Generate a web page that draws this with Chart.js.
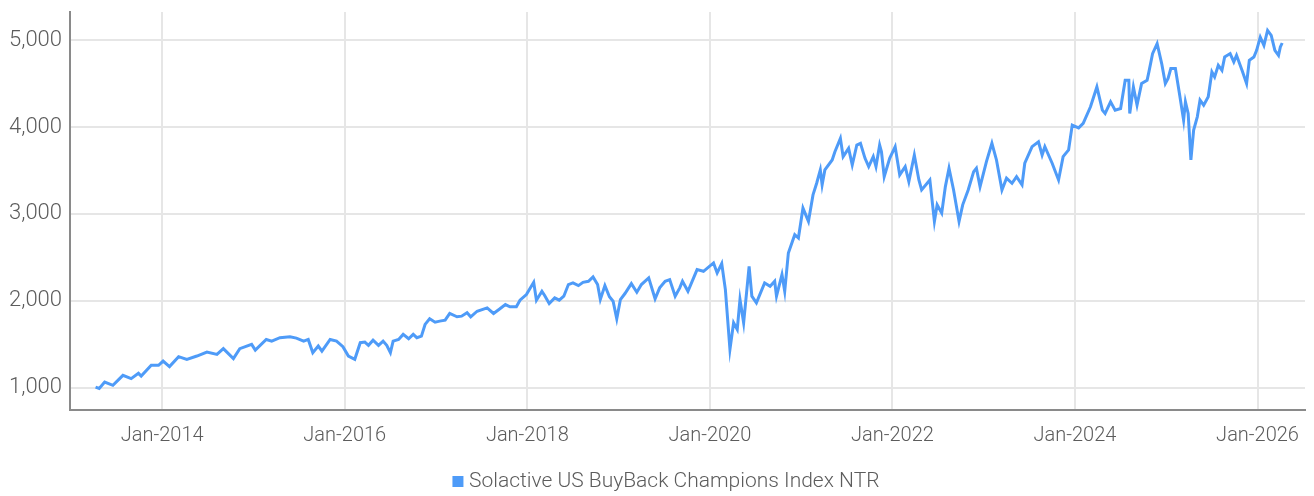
<!DOCTYPE html>
<html>
<head>
<meta charset="utf-8">
<script src="https://cdn.jsdelivr.net/npm/chart.js@4"></script>
<style>
html,body{margin:0;padding:0;background:#fff;}
#wrap{width:1314px;height:496px;position:relative;}
</style>
</head>
<body>
<div id="wrap"><canvas id="c" width="1314" height="496"></canvas></div>
<script>
// Decimal-year positions of the observations
const dates = [
2013.27,2013.31,2013.37,2013.46,2013.57,2013.66,2013.74,2013.77,2013.88,2013.96,
2014.01,2014.08,2014.18,2014.27,2014.38,2014.49,2014.60,2014.67,2014.78,2014.85,2014.98,
2015.02,2015.14,2015.20,2015.29,2015.40,2015.47,2015.55,2015.60,2015.65,2015.71,2015.75,2015.84,2015.91,2015.98,
2016.04,2016.11,2016.17,2016.22,2016.26,2016.31,2016.37,2016.42,2016.46,2016.50,2016.53,2016.59,2016.64,2016.70,2016.75,2016.79,2016.84,2016.88,2016.93,2016.99,
2017.04,2017.10,2017.15,2017.23,2017.28,2017.34,2017.38,2017.45,2017.56,2017.63,2017.70,2017.76,2017.81,2017.88,2017.92,2017.99,
2018.07,2018.10,2018.16,2018.19,2018.24,2018.30,2018.35,2018.40,2018.45,2018.50,2018.56,2018.61,2018.67,2018.72,2018.77,2018.80,2018.85,2018.90,2018.94,2018.98,
2019.02,2019.07,2019.14,2019.20,2019.25,2019.33,2019.40,2019.45,2019.51,2019.56,2019.62,2019.67,2019.70,2019.76,2019.86,2019.93,
2020.04,2020.08,2020.13,2020.17,2020.22,2020.26,2020.30,2020.33,2020.37,2020.43,2020.46,2020.51,2020.60,2020.66,2020.71,2020.73,2020.79,2020.82,2020.86,2020.93,2020.97,
2021.02,2021.08,2021.13,2021.17,2021.21,2021.23,2021.26,2021.34,2021.37,2021.43,2021.46,2021.52,2021.56,2021.61,2021.65,2021.70,2021.74,2021.79,2021.82,2021.86,2021.88,2021.91,2021.97,
2022.03,2022.08,2022.14,2022.18,2022.24,2022.29,2022.32,2022.41,2022.46,2022.49,2022.54,2022.58,2022.62,2022.67,2022.73,2022.77,2022.83,2022.89,2022.92,2022.96,
2023.03,2023.09,2023.14,2023.20,2023.25,2023.31,2023.36,2023.42,2023.45,2023.53,2023.60,2023.64,2023.67,2023.75,2023.82,2023.87,2023.93,2023.97,
2024.04,2024.09,2024.17,2024.24,2024.30,2024.33,2024.39,2024.44,2024.50,2024.55,2024.59,2024.60,2024.64,2024.68,2024.73,2024.79,2024.81,2024.85,2024.90,2024.95,2024.99,
2025.02,2025.05,2025.10,2025.15,2025.19,2025.21,2025.24,2025.27,2025.30,2025.34,2025.37,2025.41,2025.46,2025.50,2025.53,2025.57,2025.61,2025.64,2025.70,2025.74,2025.77,2025.83,2025.88,2025.91,2025.96,2025.99,
2026.03,2026.07,2026.11,2026.15,2026.19,2026.23,2026.25,2026.27
];
// Index level (NTR)
const values = [
1005,990,1064,1026,1141,1103,1164,1133,1256,1256,
1305,1241,1356,1325,1363,1409,1382,1448,1333,1448,1497,
1432,1554,1535,1574,1585,1569,1535,1554,1402,1478,1420,1554,1535,1471,
1363,1325,1517,1524,1486,1546,1486,1535,1486,1402,1535,1554,1612,1562,1612,1574,1592,1727,1792,1753,
1765,1776,1853,1815,1822,1861,1815,1879,1918,1853,1907,1956,1930,1930,2006,2071,
2212,2006,2109,2060,1968,2033,2006,2052,2186,2205,2174,2212,2224,2274,2186,2014,2174,2045,1994,1792,
2014,2083,2197,2098,2186,2263,2022,2148,2224,2243,2052,2148,2224,2109,2358,2339,
2435,2320,2427,2128,1440,1746,1669,2014,1746,2396,2052,1976,2205,2167,2224,2052,2301,2109,2550,2760,2722,
3066,2913,3219,3353,3506,3334,3506,3621,3716,3870,3659,3755,3563,3793,3813,3640,3544,3659,3544,3793,3716,3429,3640,
3774,3449,3544,3372,3678,3391,3276,3391,2913,3104,3009,3314,3526,3276,2913,3104,3276,3487,3526,3314,
3602,3813,3621,3276,3411,3353,3429,3334,3583,3774,3831,3678,3774,3583,3391,3659,3736,4023,
3990,4042,4233,4462,4195,4157,4290,4195,4214,4539,4539,4157,4462,4252,4501,4539,4635,4846,4960,4731,4501,
4559,4674,4674,4348,4080,4290,4157,3621,3965,4118,4310,4252,4348,4635,4577,4712,4654,4807,4846,4750,4826,4654,4501,4769,4807,4884,
5036,4941,5113,5056,4884,4826,4922,4968
];
const seriesName = "Solactive US BuyBack Champions Index NTR";
const xTickYears = [2014, 2016, 2018, 2020, 2022, 2024, 2026];
const yTickValues = [1000, 2000, 3000, 4000, 5000];

const BLUE = '#4e9bf8';
const TXT = '#5c5c5c';
const FONT = 'Roboto';
const LEGEND_DX = 16, LEGEND_DY = 6;

const points = dates.map((d, i) => ({x: d, y: values[i]}));

const legendShift = {
  id: 'legendShift',
  afterLayout(chart) {
    const lg = chart.legend;
    if (!lg) return;
    lg.left += LEGEND_DX; lg.right += LEGEND_DX;
    lg.top += LEGEND_DY; lg.bottom += LEGEND_DY;
  }
};

new Chart(document.getElementById('c'), {
  type: 'line',
  data: {
    datasets: [{
      label: seriesName,
      data: points,
      borderColor: BLUE,
      backgroundColor: BLUE,
      borderWidth: 3,
      pointRadius: 0,
      tension: 0,
      fill: false
    }]
  },
  plugins: [legendShift],
  options: {
    responsive: false,
    animation: false,
    devicePixelRatio: 1,
    layout: {padding: {top: 12, right: 9, bottom: 0, left: 0}},
    plugins: {
      tooltip: {enabled: false},
      legend: {
        display: true,
        position: 'bottom',
        labels: {
          boxWidth: 1,
          boxHeight: 1,
          padding: 5,
          color: TXT,
          font: {family: FONT, size: 21, weight: '300'},
          generateLabels: (chart) => chart.data.datasets.map((ds, i) => ({
            text: ds.label, fillStyle: BLUE, strokeStyle: BLUE, lineWidth: 10,
            lineJoin: 'miter', fontColor: TXT, datasetIndex: i, hidden: false
          }))
        }
      }
    },
    scales: {
      x: {
        type: 'linear',
        min: 2012.99,
        max: 2026.52,
        afterBuildTicks: (s) => { s.ticks = xTickYears.map(v => ({value: v})); },
        afterFit: (s) => { s.height = 50.3; s.paddingLeft = 0; s.paddingRight = 0; },
        grid: {color: '#e6e6e6', lineWidth: 2, drawTicks: false},
        border: {color: '#8a8a8a', width: 2},
        ticks: {
          padding: 14.5,
          color: TXT,
          maxRotation: 0,
          autoSkip: false,
          font: {family: FONT, size: 20, weight: '300'},
          callback: (v) => 'Jan-' + v
        }
      },
      y: {
        type: 'linear',
        min: 745,
        max: 5325,
        afterBuildTicks: (s) => { s.ticks = yTickValues.map(v => ({value: v})); },
        afterFit: (s) => { s.width = 70; s.paddingTop = 0; s.paddingBottom = 0; },
        grid: {color: '#e6e6e6', lineWidth: 2, drawTicks: false},
        border: {color: '#8a8a8a', width: 2},
        ticks: {
          padding: 8,
          color: TXT,
          font: {family: FONT, size: 22, weight: '300'},
          callback: (v) => v.toLocaleString('en-US')
        }
      }
    }
  }
});
</script>
</body>
</html>
